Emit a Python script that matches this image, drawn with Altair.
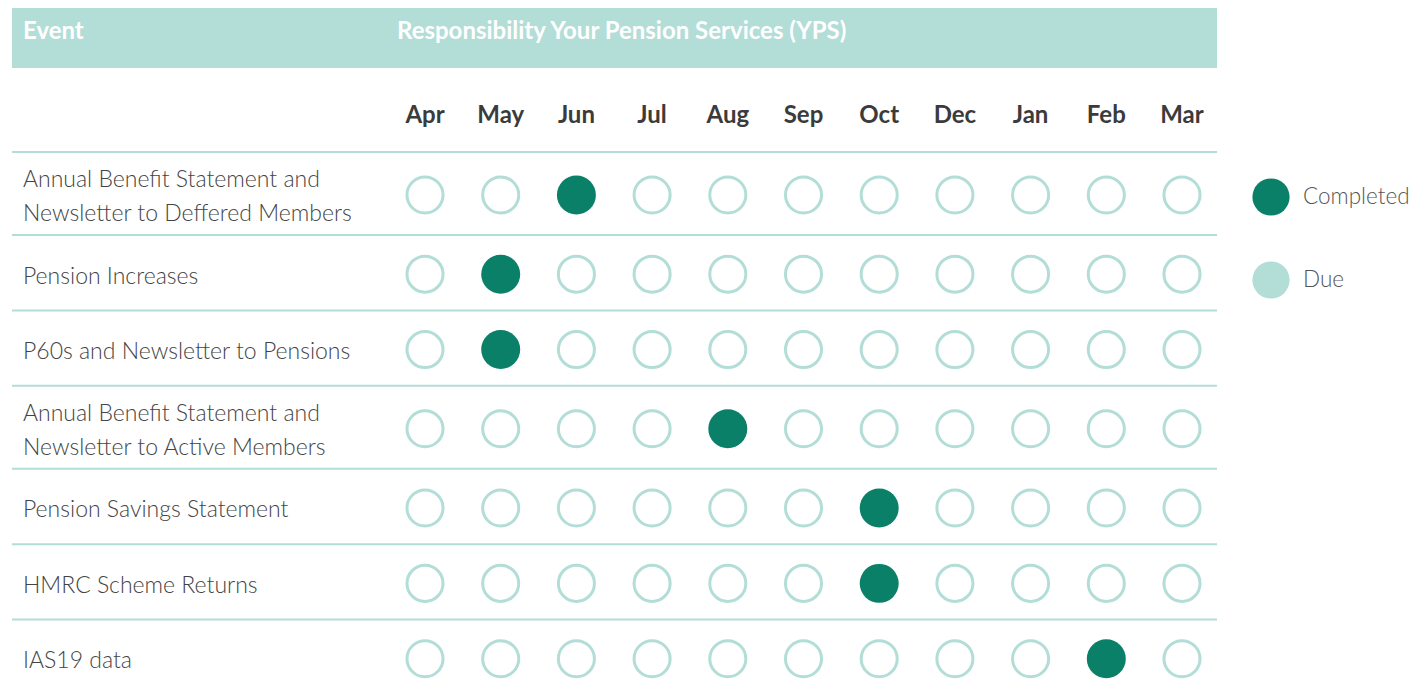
import altair as alt
import pandas as pd

months = ["Apr", "May", "Jun", "Jul", "Aug", "Sep", "Oct", "Dec", "Jan", "Feb", "Mar"]
events = [
    "Annual Benefit Statement and\nNewsletter to Deffered Members",
    "Pension Increases",
    "P60s and Newsletter to Pensions",
    "Annual Benefit Statement and\nNewsletter to Active Members",
    "Pension Savings Statement",
    "HMRC Scheme Returns",
    "IAS19 data",
]
completed_month = ["Jun", "May", "May", "Aug", "Oct", "Oct", "Feb"]
statuses = ["Completed", "Due"]
header_event = "Event"
header_resp = "Responsibility Your Pension Services (YPS)"

DARK = "#0b8069"
LIGHT = "#b3ddd7"
FONT = "Lato"

# row layout: two-line rows are a little taller
row_h = [1.1 if "\n" in e else 1.0 for e in events]
tops, acc = [], 0.0
for h in row_h:
    tops.append(acc)
    acc += h
centers = [t + h / 2 for t, h in zip(tops, row_h)]
total = acc
Y0, Y1 = 144, 687
line_gap = 34 * total / (Y1 - Y0)  # one text line, in row units

grid = pd.DataFrame(
    [
        {"event": e, "month": m, "pos": c, "status": "Completed" if m == cm else "Due"}
        for e, c, cm in zip(events, centers, completed_month)
        for m in months
    ]
)
rows = pd.DataFrame({"event": events, "pos": centers, "top": tops})
lines = []
for e, c in zip(events, centers):
    parts = e.split("\n")
    n = len(parts)
    for i, p in enumerate(parts):
        lines.append({"line": p, "pos": c + (i - (n - 1) / 2) * line_gap})
lines = pd.DataFrame(lines)
mdf = pd.DataFrame({"month": months})
one = pd.DataFrame({"a": [0]})

xs = alt.Scale(type="point", domain=months, range=[417, 1174], padding=0)
ys = alt.Scale(domain=[0, total], range=[Y0, Y1], nice=False, zero=False)

band = alt.Chart(one).mark_rect(color=LIGHT).encode(
    x=alt.value(4), x2=alt.value(1209), y=alt.value(0), y2=alt.value(60)
)
h1 = alt.Chart(one).mark_text(
    text=header_event, font=FONT, fontSize=24, fontWeight="bold", color="white",
    align="left", baseline="middle"
).encode(x=alt.value(15), y=alt.value(24))
h2 = alt.Chart(one).mark_text(
    text=header_resp, font=FONT, fontSize=24, fontWeight="bold", color="white",
    align="left", baseline="middle"
).encode(x=alt.value(389), y=alt.value(24))

month_labels = alt.Chart(mdf).mark_text(
    font=FONT, fontSize=24, fontWeight="bold", color="#3b3b3b", baseline="middle"
).encode(x=alt.X("month:N", scale=xs, axis=None), y=alt.value(108), text="month:N")

seps = alt.Chart(rows).mark_rule(color=LIGHT, strokeWidth=2).encode(
    y=alt.Y("top:Q", scale=ys, axis=None), x=alt.value(4), x2=alt.value(1209)
)

row_labels = alt.Chart(lines).mark_text(
    font=FONT, fontSize=23, fontWeight=300, color="#444444", align="left",
    baseline="middle", dy=4
).encode(x=alt.value(15), y=alt.Y("pos:Q", scale=ys, axis=None), text="line:N")

due = alt.Chart(grid).transform_filter(alt.datum.status == "Due").mark_point(
    shape="circle", filled=False, stroke=LIGHT, strokeWidth=3, size=1300, opacity=1,
    yOffset=1.5
).encode(x=alt.X("month:N", scale=xs, axis=None), y=alt.Y("pos:Q", scale=ys, axis=None))

done = alt.Chart(grid).transform_filter(alt.datum.status == "Completed").mark_circle(
    size=1520, opacity=1, yOffset=1.5
).encode(
    x=alt.X("month:N", scale=xs, axis=None),
    y=alt.Y("pos:Q", scale=ys, axis=None),
    color=alt.Color(
        "status:N",
        scale=alt.Scale(domain=statuses, range=[DARK, LIGHT]),
        legend=alt.Legend(
            title=None, orient="none", legendX=1244, legendY=170,
            symbolType="circle", symbolSize=1385, symbolOpacity=1, symbolStrokeWidth=0,
            labelFont=FONT, labelFontSize=22.5, labelFontWeight=300, labelColor="#555555",
            labelOffset=13, rowPadding=45, padding=0, labelLimit=200,
        ),
    ),
)

chart = (
    alt.layer(band, h1, h2, month_labels, seps, row_labels, due, done)
    .properties(width=1407, height=687, autosize=alt.AutoSizeParams(type="none"), padding=0)
    .configure_view(stroke=None)
)

chart.save("out.html", embed_options={"renderer": "svg", "actions": False})
